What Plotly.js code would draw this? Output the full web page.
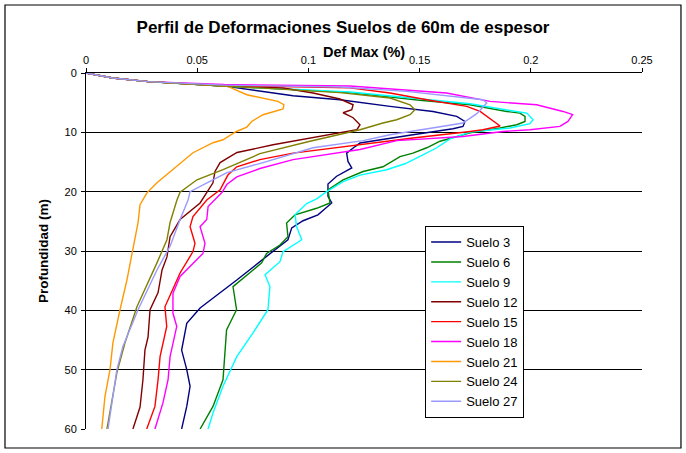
<!DOCTYPE html>
<html>
<head>
<meta charset="utf-8">
<script src="https://cdn.plot.ly/plotly-3.0.1.min.js"></script>
<style>html,body{margin:0;padding:0;background:#fff}#chart{width:686px;height:453px}</style>
</head>
<body>
<div id="chart"></div>
<script>
// Def Max (%) vs Profundidad (m) for each soil
const suelo3Def = [0,0.012,0.028,0.0633,0.0931,0.1142,0.1367,0.156,0.1667,0.1704,0.1695,0.165,0.147,0.1232,0.121,0.1172,0.1178,0.1195,0.1127,0.1088,0.1088,0.1105,0.1043,0.0976,0.0925,0.0908,0.0812,0.0678,0.0513,0.0453,0.043,0.0453,0.0468,0.0453,0.043];
const suelo3Prof = [0,0.85,1.45,2.26,3.83,4.5,5.63,6.48,7.32,8.16,9.0,9.4,10.4,11.8,12.4,13.5,14.9,16.0,17.4,18.7,20.8,21.9,23.9,24.9,26.1,28.1,30.9,34.9,39.6,42.2,46.7,50.0,52.8,56.2,60];

const suelo6Def = [0,0.012,0.028,0.062,0.1187,0.15,0.1727,0.1892,0.1951,0.1974,0.1974,0.1937,0.1862,0.1727,0.1592,0.1532,0.147,0.1412,0.1335,0.1246,0.1156,0.1088,0.1097,0.1037,0.094,0.0902,0.0908,0.0872,0.0812,0.079,0.0661,0.0677,0.0632,0.0625,0.0616,0.0571,0.0513];
const suelo6Prof = [0,0.85,1.45,2.2,3.3,4.6,5.35,6.48,6.75,7.32,8.16,8.72,9.27,10.1,11.5,12.6,13.5,14.1,15.8,16.6,18.0,19.7,21.9,22.8,23.9,25.3,27.6,29.0,30.4,32.0,36.0,39.9,43.3,47.8,51.7,56.2,60];

const suelo9Def = [0,0.012,0.028,0.062,0.1187,0.15,0.1727,0.1906,0.1982,0.201,0.1996,0.1906,0.1727,0.1637,0.1577,0.1515,0.1434,0.1352,0.1232,0.1156,0.1082,0.1037,0.0992,0.094,0.0947,0.097,0.0886,0.0872,0.0805,0.0827,0.0818,0.0751,0.0678,0.0616,0.0571,0.0549];
const suelo9Prof = [0,0.85,1.45,2.2,3.2,4.4,5.18,6.31,6.75,7.88,8.55,9.27,9.95,11.1,12.6,13.8,15.3,16.3,17.2,18.3,20.0,21.2,22.0,23.9,25.9,28.1,30.1,31.8,34.0,36.0,39.9,43.8,47.8,52.8,57.3,60];

const suelo12Def = [0,0.012,0.028,0.062,0.0886,0.1021,0.1142,0.1201,0.1195,0.1156,0.1201,0.1232,0.1218,0.1021,0.0841,0.0679,0.0603,0.058,0.0571,0.0513,0.0423,0.0378,0.0364,0.0342,0.0324,0.0288,0.0279,0.0265,0.0256,0.0243,0.0211];
const suelo12Prof = [0,0.85,1.45,2.2,2.53,3.37,4.38,5.35,6.19,6.7,7.54,8.72,9.56,10.9,12.1,13.4,15.1,16.6,18.5,21.9,24.7,27.6,31.0,33.2,37.0,39.9,44.5,46.7,51.7,56.3,60];

const suelo15Def = [0,0.012,0.028,0.062,0.1187,0.1367,0.1532,0.1712,0.1772,0.1817,0.1862,0.1785,0.1727,0.147,0.1232,0.0931,0.0782,0.0678,0.0638,0.0603,0.0543,0.0481,0.0468,0.049,0.0481,0.0423,0.0355,0.0363,0.0333,0.0324,0.031,0.0273];
const suelo15Prof = [0,0.85,1.45,2.1,2.5,3.37,4.5,5.63,6.48,7.7,8.94,9.56,9.85,10.96,12.1,13.5,14.6,15.8,17.2,19.7,21.4,24.2,25.9,28.7,30.1,33.7,39.4,42.7,47.8,51.7,56.2,60];

const suelo18Def = [0,0.012,0.028,0.062,0.1187,0.1442,0.1621,0.1817,0.2026,0.2145,0.2188,0.2167,0.2131,0.1996,0.1875,0.1695,0.1397,0.1232,0.0931,0.0782,0.0678,0.0633,0.0612,0.0549,0.0543,0.0513,0.0535,0.0526,0.0423,0.0391,0.0391,0.0408,0.0378,0.0369,0.0346,0.031];
const suelo18Prof = [0,0.85,1.45,1.95,2.2,2.82,3.37,4.79,5.35,6.48,7.03,8.16,9.0,9.56,9.85,10.7,11.4,12.9,14.6,16.1,17.5,18.8,20.1,22.5,24.7,25.9,28.7,30.4,34.3,37.1,40.5,42.7,47.8,51.7,55.6,60];

const suelo21Def = [0,0.012,0.028,0.0638,0.0723,0.0863,0.089,0.0886,0.0796,0.0745,0.0723,0.0674,0.0616,0.0571,0.0481,0.0391,0.0319,0.0274,0.0243,0.0234,0.0211,0.0184,0.0153,0.0121,0.0108,0.0085,0.0071];
const suelo21Prof = [0,0.85,1.45,2.26,3.66,4.79,5.35,6.07,7.03,8.16,9.11,9.9,11.25,11.75,13.44,16.3,18.5,20.2,22.2,25.2,29.95,34.9,39.9,45.5,50.0,54.6,60];

const suelo24Def = [0,0.012,0.028,0.062,0.1142,0.1367,0.1457,0.1479,0.1457,0.1397,0.1335,0.1232,0.1007,0.0782,0.0616,0.0499,0.0423,0.0409,0.0378,0.0364,0.0319,0.0229,0.0175,0.0139,0.0117,0.0094];
const suelo24Prof = [0,0.85,1.45,2.2,3.3,4.22,5.35,6.19,7.03,7.88,8.43,9.56,11.5,13.6,16.3,18.0,20.1,21.4,25.2,28.1,32.0,39.4,45.5,50.5,55.1,60];

const suelo27Def = [0,0.012,0.028,0.062,0.1142,0.1442,0.1785,0.1802,0.1757,0.1695,0.1592,0.1367,0.1246,0.1021,0.0796,0.0634,0.0544,0.0468,0.0459,0.0423,0.0378,0.0319,0.0234,0.0166,0.0139,0.0121,0.0099];
const suelo27Prof = [0,0.85,1.45,2.05,2.36,3.1,4.5,5.06,6.86,8.43,9.06,10.4,11.4,12.6,15.1,16.8,18.5,20.0,21.4,24.7,29.2,33.2,39.9,46.1,50.0,54.5,60];

const seriesNames = ["Suelo 3","Suelo 6","Suelo 9","Suelo 12","Suelo 15","Suelo 18","Suelo 21","Suelo 24","Suelo 27"];
const xTickVals = [0,0.05,0.1,0.15,0.2,0.25];
const xTickText = ["0","0.05","0.1","0.15","0.2","0.25"];
const yTickVals = [0,10,20,30,40,50,60];

const seriesDef = [suelo3Def,suelo6Def,suelo9Def,suelo12Def,suelo15Def,suelo18Def,suelo21Def,suelo24Def,suelo27Def];
const seriesProf = [suelo3Prof,suelo6Prof,suelo9Prof,suelo12Prof,suelo15Prof,suelo18Prof,suelo21Prof,suelo24Prof,suelo27Prof];
const colors = ["#000080","#008000","#00FFFF","#800000","#FF0000","#FF00FF","#FF9900","#808000","#9999FF"];

const FONT = "Liberation Sans, Arial, sans-serif";

const traces = seriesNames.map((n, i) => ({
  type: "scatter", mode: "lines", name: n,
  x: seriesDef[i], y: seriesProf[i],
  line: {color: colors[i], width: 1.4},
  hoverinfo: "skip"
}));

const layout = {
  width: 686, height: 453,
  margin: {l: 86, r: 44, t: 73, b: 24},
  paper_bgcolor: "#fff", plot_bgcolor: "#fff",
  font: {family: FONT, color: "#000", size: 11},
  title: {text: "Perfil de Deformaciones Suelos de 60m de espesor",
          font: {family: FONT, size: 17, weight: "bold", color: "#000"},
          x: 0.5, xref: "container", y: 0.94, yref: "container", yanchor: "middle"},
  xaxis: {side: "top", range: [0, 0.25], tickvals: xTickVals, ticktext: xTickText,
          showgrid: false, zeroline: false, showline: true, linecolor: "#000", linewidth: 1,
          ticks: "outside", ticklen: 4, tickcolor: "#000", tickfont: {size: 11, family: FONT}},
  yaxis: {range: [60, 0], tickvals: yTickVals, showgrid: true, gridcolor: "#000", gridwidth: 1,
          zeroline: false, showline: true, linecolor: "#000", linewidth: 1,
          ticks: "outside", ticklen: 4, tickcolor: "#000", tickfont: {size: 11, family: FONT},
          ticklabelstandoff: 2,
          title: {text: "Profundidad (m)", font: {family: FONT, size: 13.5, weight: "bold"}, standoff: 12}},
  showlegend: true,
  legend: {x: 0.61, y: 0.57, xanchor: "left", yanchor: "top", bgcolor: "#fff",
           bordercolor: "#000", borderwidth: 1, font: {family: FONT, size: 13, color: "#000"},
           tracegroupgap: 0},
  annotations: [{text: "Def Max (%)", xref: "paper", yref: "paper", x: 0.5, y: 1.06,
                 xanchor: "center", yanchor: "middle", showarrow: false,
                 font: {family: FONT, size: 14.5, weight: "bold", color: "#000"}}],
  shapes: [{type: "rect", xref: "paper", yref: "paper", x0: -0.1457, x1: 1.0701, y0: -0.0534, y1: 1.191,
            line: {color: "#000", width: 1.2}, fillcolor: "rgba(0,0,0,0)", layer: "below"}]
};

Plotly.newPlot("chart", traces, layout, {displayModeBar: false, staticPlot: true});
</script>
</body>
</html>
